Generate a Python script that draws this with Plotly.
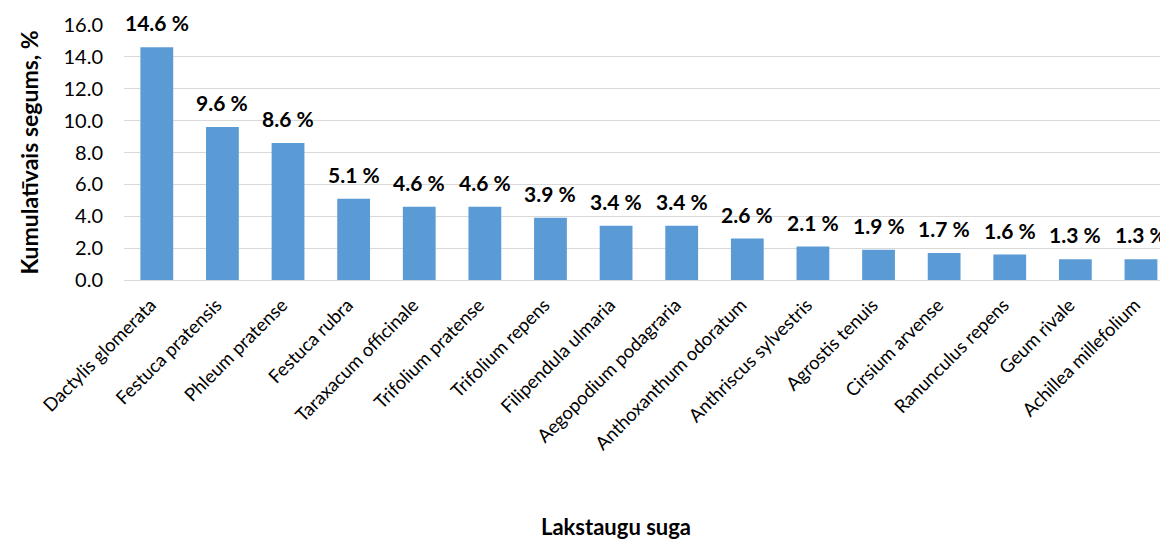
import plotly.graph_objects as go

species = ["Dactylis glomerata", "Festuca pratensis", "Phleum pratense", "Festuca rubra",
           "Taraxacum officinale", "Trifolium pratense", "Trifolium repens", "Filipendula ulmaria",
           "Aegopodium podagraria", "Anthoxanthum odoratum", "Anthriscus sylvestris",
           "Agrostis tenuis", "Cirsium arvense", "Ranunculus repens", "Geum rivale",
           "Achillea millefolium"]
values = [14.6, 9.6, 8.6, 5.1, 4.6, 4.6, 3.9, 3.4, 3.4, 2.6, 2.1, 1.9, 1.7, 1.6, 1.3, 1.3]
y_ticks = [0, 2, 4, 6, 8, 10, 12, 14, 16]

FONT = "Lato, 'Open Sans', sans-serif"

fig = go.Figure()
fig.add_trace(go.Bar(
    x=species, y=values, marker=dict(color="#5B9BD5", line=dict(width=0)),
    hoverinfo="x+y",
))
for s, v in zip(species, values):
    fig.add_annotation(x=s, y=v, text=f"<b>{v:.1f} %</b>", showarrow=False,
                       yanchor="bottom", yshift=10,
                       font=dict(family=FONT, size=21, color="#000000"))

fig.add_annotation(xref="paper", yref="paper", x=0.475, y=0, yshift=-246,
                   text="<b>Lakstaugu suga</b>", showarrow=False, yanchor="middle",
                   font=dict(family=FONT, size=22, color="#000000"))

fig.update_layout(
    width=1160, height=539,
    margin=dict(l=124, r=0, t=25, b=259),
    paper_bgcolor="white", plot_bgcolor="white",
    bargap=0.5, showlegend=False,
    font=dict(family=FONT, color="#000000"),
    xaxis=dict(range=[-0.5, 15.29], tickangle=-45, tickfont=dict(size=18.5, family=FONT),
               showline=True, linecolor="#D9D9D9", linewidth=1, ticks="", showgrid=False,
               ticklabelshift=-6, ticklabelstandoff=6),
    yaxis=dict(range=[0, 16], tickvals=y_ticks, tickformat=".1f",
               tickfont=dict(size=20, family=FONT), showgrid=True, gridcolor="#D9D9D9",
               gridwidth=1, zeroline=False, ticks="", ticklabelstandoff=20,
               title=dict(text="<b>Kumulatīvais segums, %</b>",
                          font=dict(size=23, family=FONT), standoff=18)),
)

fig.write_html("out.html", config={"displayModeBar": False},
               post_script="document.body.style.margin='0';")
